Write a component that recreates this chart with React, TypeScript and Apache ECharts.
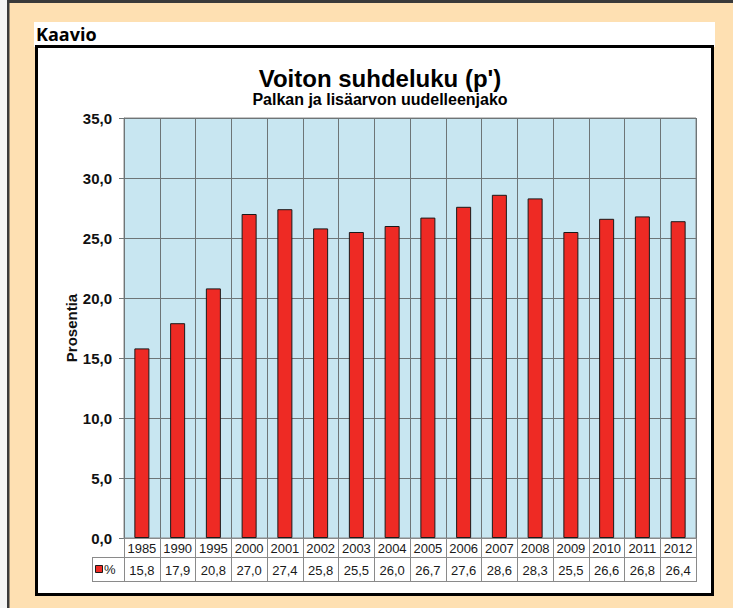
import React, { useEffect, useRef } from "react";
import * as echarts from "echarts";

const years = ["1985", "1990", "1995", "2000", "2001", "2002", "2003", "2004", "2005", "2006", "2007", "2008", "2009", "2010", "2011", "2012"];
const values = [15.8, 17.9, 20.8, 27.0, 27.4, 25.8, 25.5, 26.0, 26.7, 27.6, 28.6, 28.3, 25.5, 26.6, 26.8, 26.4];
const seriesName = "%";
const yMin = 0;
const yMax = 35;
const yStep = 5;

const headerText = "Kaavio";
const titleText = "Voiton suhdeluku (p')";
const subtitleText = "Palkan ja lisäarvon uudelleenjako";
const yAxisName = "Prosentia";

const fmt = (v: number) => v.toFixed(1).replace(".", ",");

const FONT = "'Liberation Sans', Arial, sans-serif";
const G = { left: 124, top: 118, width: 572, height: 420 };
const ROW1 = 19;
const ROW2 = 24;

export default function App() {
  const ref = useRef<HTMLDivElement>(null);
  useEffect(() => {
    if (!ref.current) return;
    const chart = echarts.init(ref.current, undefined, { renderer: "svg" });
    const gRight = G.left + G.width;
    const gBottom = G.top + G.height;
    const tableLine = "#8a8a8a";
    const gridLine = "#6e7577";
    chart.setOption({
      animation: false,
      backgroundColor: "#FEE0B2",
      textStyle: { fontFamily: FONT },
      grid: {
        left: G.left,
        top: G.top,
        width: G.width,
        height: G.height,
        show: true,
        backgroundColor: "#C8E6F1",
        borderColor: "#8a8a8a",
        borderWidth: 1,
      },
      xAxis: [
        {
          type: "category",
          data: years,
          boundaryGap: true,
          z: 2,
          axisLine: { show: true, lineStyle: { color: "#8a8a8a", width: 1 } },
          axisTick: {
            show: true,
            interval: 0,
            length: ROW1 + ROW2 + 1,
            lineStyle: { color: tableLine, width: 1 },
          },
          splitLine: { show: false },
          axisLabel: {
            interval: 0,
            margin: 1,
            formatter: (val: string, idx: number) => `{y|${val}}\n{v|${fmt(values[idx])}}`,
            rich: {
              y: { fontSize: 13, lineHeight: ROW1, color: "#1a1a1a", fontFamily: FONT },
              v: { fontSize: 13, lineHeight: ROW2, color: "#1a1a1a", fontFamily: FONT },
            },
          },
        },
        {
          type: "category",
          data: years,
          boundaryGap: true,
          position: "top",
          z: 2,
          axisLine: { show: false },
          axisLabel: { show: false },
          splitLine: { show: false },
          axisTick: {
            show: true,
            inside: true,
            interval: 0,
            length: G.height,
            lineStyle: { color: gridLine, width: 1 },
          },
        },
      ],
      yAxis: {
        type: "value",
        min: yMin,
        max: yMax,
        interval: yStep,
        name: yAxisName,
        nameLocation: "middle",
        nameGap: 45,
        nameMoveOverlap: false,
        nameRotate: 90,
        nameTextStyle: { fontSize: 15, fontWeight: "bold", color: "#111", fontFamily: FONT },
        axisLine: { show: true, lineStyle: { color: "#8a8a8a" } },
        axisTick: { show: true, length: 5, lineStyle: { color: gridLine } },
        splitLine: { show: true, lineStyle: { color: gridLine, width: 1 } },
        axisLabel: {
          margin: 12,
          fontSize: 15,
          fontWeight: "bold",
          color: "#111",
          fontFamily: FONT,
          formatter: (v: number) => fmt(v),
        },
      },
      series: [
        {
          name: seriesName,
          type: "bar",
          xAxisIndex: 0,
          data: values,
          barWidth: "42%",
          itemStyle: { color: "#EE2A24", borderColor: "#1a1a1a", borderWidth: 1 },
          z: 3,
        },
      ],
      graphic: [
        { type: "rect", z: -20, shape: { x: 0, y: 0, width: 7, height: 608 }, style: { fill: "#f4f4f4" } },
        { type: "rect", z: -19, shape: { x: 7, y: 0, width: 726, height: 3 }, style: { fill: "#3a3a3a" } },
        { type: "rect", z: -19, shape: { x: 7, y: 0, width: 2.5, height: 608 }, style: { fill: "#3a3a3a" } },
        { type: "rect", z: -18, shape: { x: 34, y: 22, width: 681, height: 25 }, style: { fill: "#ffffff" } },
        {
          type: "rect",
          z: -17,
          shape: { x: 36.5, y: 46.5, width: 676, height: 548 },
          style: { fill: "#ffffff", stroke: "#000000", lineWidth: 3 },
        },
        {
          type: "text",
          z: 5,
          x: 36,
          y: 34,
          style: {
            text: headerText,
            font: "bold 18px 'Open Sans', 'Noto Sans', sans-serif",
            fill: "#000",
            textAlign: "left",
            textVerticalAlign: "middle",
          },
        },
        {
          type: "text",
          z: 5,
          x: 380,
          y: 78,
          style: {
            text: titleText,
            font: `bold 24px ${FONT}`,
            fill: "#000",
            textAlign: "center",
            textVerticalAlign: "middle",
          },
        },
        {
          type: "text",
          z: 5,
          x: 380,
          y: 99,
          style: {
            text: subtitleText,
            font: `bold 16px ${FONT}`,
            fill: "#000",
            textAlign: "center",
            textVerticalAlign: "middle",
          },
        },
        {
          type: "line",
          z: 10,
          shape: { x1: 92, y1: gBottom + ROW1 + 0.5, x2: gRight, y2: gBottom + ROW1 + 0.5 },
          style: { stroke: tableLine, lineWidth: 1 },
        },
        {
          type: "line",
          z: 10,
          shape: { x1: 92, y1: gBottom + ROW1 + ROW2 + 0.5, x2: gRight, y2: gBottom + ROW1 + ROW2 + 0.5 },
          style: { stroke: tableLine, lineWidth: 1 },
        },
        {
          type: "line",
          z: 10,
          shape: { x1: 92.5, y1: gBottom + ROW1 + 0.5, x2: 92.5, y2: gBottom + ROW1 + ROW2 + 0.5 },
          style: { stroke: tableLine, lineWidth: 1 },
        },
        {
          type: "rect",
          z: 10,
          shape: { x: 95.5, y: gBottom + ROW1 + 8.5, width: 7, height: 7 },
          style: { fill: "#EE2A24", stroke: "#1a1a1a", lineWidth: 1 },
        },
        {
          type: "text",
          z: 10,
          x: 104,
          y: gBottom + ROW1 + 12.5,
          style: {
            text: seriesName,
            font: `13px ${FONT}`,
            fill: "#1a1a1a",
            textAlign: "left",
            textVerticalAlign: "middle",
          },
        },
      ],
    });
    return () => chart.dispose();
  }, []);
  return (
    <div
      ref={ref}
      style={{ position: "fixed", left: 0, top: 0, width: 733, height: 608 }}
    />
  );
}
